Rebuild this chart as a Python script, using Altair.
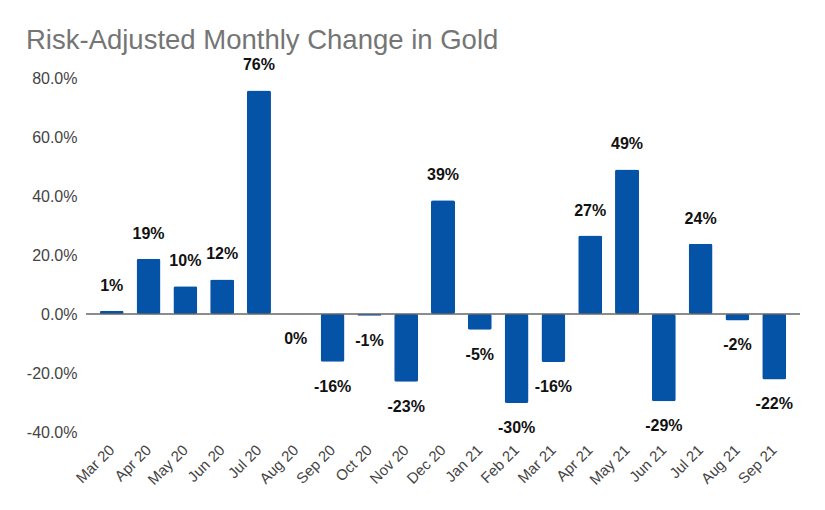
import altair as alt
import pandas as pd

months = ["Mar 20", "Apr 20", "May 20", "Jun 20", "Jul 20", "Aug 20", "Sep 20",
          "Oct 20", "Nov 20", "Dec 20", "Jan 21", "Feb 21", "Mar 21", "Apr 21",
          "May 21", "Jun 21", "Jul 21", "Aug 21", "Sep 21"]
values = [0.010, 0.187, 0.094, 0.117, 0.758, -0.001, -0.162,
          -0.006, -0.230, 0.386, -0.053, -0.302, -0.163, 0.266,
          0.490, -0.296, 0.238, -0.022, -0.222]
labels = ["1%", "19%", "10%", "12%", "76%", "0%", "-16%",
          "-1%", "-23%", "39%", "-5%", "-30%", "-16%", "27%",
          "49%", "-29%", "24%", "-2%", "-22%"]

df = pd.DataFrame({"month": months, "value": values, "label": labels})

FONT = "Liberation Sans"

x = alt.X("month:N", sort=months, title=None,
          scale=alt.Scale(paddingInner=0.348, paddingOuter=0.374),
          axis=alt.Axis(labelAngle=-45, labelAlign="right", labelBaseline="middle",
                        labelFont=FONT, labelFontSize=15, labelColor="#444444",
                        labelPadding=15, domain=False, ticks=False, grid=False))
y = alt.Y("value:Q", title=None,
          scale=alt.Scale(domain=[-0.4, 0.8], nice=False, zero=True),
          axis=alt.Axis(values=[-0.4, -0.2, 0, 0.2, 0.4, 0.6, 0.8],
                        labelExpr="(datum.value < 0 ? '-' : '') + format(abs(datum.value), '.1%')",
                        labelFont=FONT, labelFontSize=16, labelColor="#444444",
                        labelPadding=9, domain=False, ticks=False, grid=False))

base = alt.Chart(df)

bars = base.mark_bar(color="#0553A6", cornerRadius=2).encode(x=x, y=y)

zero = alt.Chart(pd.DataFrame({"z": [0]})).mark_rule(color="#666666", strokeWidth=1.6).encode(
    y=alt.Y("z:Q", scale=alt.Scale(domain=[-0.4, 0.8], nice=False)))

pos_text = base.transform_filter("datum.value > 0").mark_text(
    font=FONT, fontSize=16, fontWeight="bold", color="#111111", baseline="middle", dy=-25
).encode(x=x, y=y, text="label:N")

neg_text = base.transform_filter("datum.value <= 0").mark_text(
    font=FONT, fontSize=16, fontWeight="bold", color="#111111", baseline="middle", dy=25
).encode(x=x, y=y, text="label:N")

chart = alt.layer(bars, zero, pos_text, neg_text).properties(
    width=714, height=354,
    title=alt.TitleParams("Risk-Adjusted Monthly Change in Gold", anchor="start", frame="group",
                          font=FONT, fontSize=27.5, fontWeight="normal", color="#757575",
                          dx=-60, dy=1),
    autosize=alt.AutoSizeParams(type="none"),
    padding={"left": 78, "top": 70, "right": 17, "bottom": 60},
).configure_view(stroke=None)

chart.save("out.html", embed_options={"renderer": "svg", "actions": False})
